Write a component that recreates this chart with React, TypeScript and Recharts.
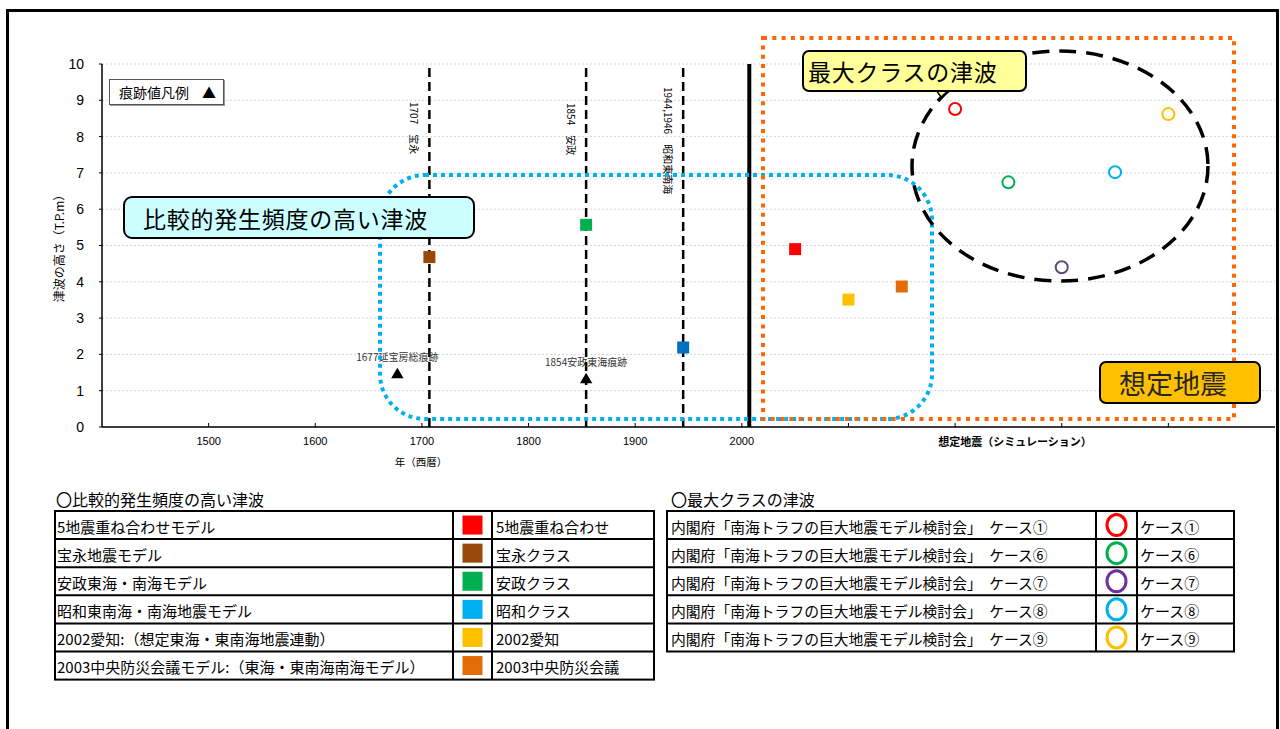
import React from 'react';
import { ScatterChart, Scatter, XAxis, YAxis, CartesianGrid, ReferenceLine } from 'recharts';

const JP = '"Noto Sans CJK JP", "Noto Sans", sans-serif';
const NUM = '"Liberation Sans", Arial, sans-serif';

// 横軸：年(西暦)。2000年より右はシミュレーション（想定地震）の並び
const xTicks = [1500, 1600, 1700, 1800, 1900, 2000, 2100, 2200, 2300, 2400];
const yTicks = [0, 1, 2, 3, 4, 5, 6, 7, 8, 9, 10];

// 過去の地震（破線）
const eventYears = [1707, 1854, 1945];
const eventLabels = ['1707　宝永', '1854　安政', '1944,1946　昭和東南海'];
const presentYear = 2007;

// 比較的発生頻度の高い津波
const freqModels = [
  '5地震重ね合わせモデル',
  '宝永地震モデル',
  '安政東海・南海モデル',
  '昭和東南海・南海地震モデル',
  '2002愛知:（想定東海・東南海地震連動）',
  '2003中央防災会議モデル:（東海・東南海南海モデル）',
];
const freqNames = ['5地震重ね合わせ', '宝永クラス', '安政クラス', '昭和クラス', '2002愛知', '2003中央防災会議'];
const freqX = [2050, 1707, 1854, 1945, 2100, 2150];
const freqY = [4.9, 4.68, 5.57, 2.19, 3.51, 3.87];
const freqColors = ['#FF0000', '#984807', '#00B050', '#0070C0', '#FFC000', '#E36C09'];
const freqLegendColors = ['#FF0000', '#984807', '#00B050', '#00B0F0', '#FFC000', '#E36C09'];

// 最大クラスの津波
const maxSource = '内閣府「南海トラフの巨大地震モデル検討会」　';
const maxNames = ['ケース①', 'ケース⑥', 'ケース⑦', 'ケース⑧', 'ケース⑨'];
const maxX = [2200, 2250, 2300, 2350, 2400];
const maxY = [8.76, 6.74, 4.4, 7.02, 8.62];
const maxColors = ['#FF0000', '#00B050', '#604A7B', '#00B0F0', '#FFC000'];
const maxLegendColors = ['#FF0000', '#00B050', '#7030A0', '#00B0F0', '#FFC000'];

// 痕跡値
const traceX = [1677, 1854];
const traceY = [1.48, 1.34];
const traceLabels = ['1677延宝房総痕跡', '1854安政東海痕跡'];

const eventLabelTop = [38, 39, 23];

const Square = (color: string) => (p: any) => (
  <rect x={p.cx - 6} y={p.cy - 6} width={12} height={12} fill={color} />
);

const Ring = (color: string) => (p: any) => (
  <circle cx={p.cx} cy={p.cy} r={6} fill="#fff" stroke={color} strokeWidth={2} />
);

const Triangle = (p: any) => (
  <g>
    <polygon
      points={`${p.cx},${p.cy - 5.5} ${p.cx - 6.2},${p.cy + 5} ${p.cx + 6.2},${p.cy + 5}`}
      fill="#000"
    />
    <text x={p.cx} y={p.cy - 17} textAnchor="middle" dominantBaseline="central" fontSize={10} style={{ fill: '#333' }} fontFamily={JP}>
      {p.payload.label}
    </text>
  </g>
);

function FreqTable() {
  const rowH = 28.1;
  const top = 511;
  const rows = freqModels.length;
  return (
    <svg width={1280} height={729} style={{ position: 'absolute', left: 0, top: 0 }}>
      <text x={56} y={499} dominantBaseline="central" fontSize={16} fontFamily={JP}>〇比較的発生頻度の高い津波</text>
      <rect x={55} y={top} width={599} height={rowH * rows} fill="none" stroke="#000" strokeWidth={2} />
      {freqModels.map((_, i) => i > 0 && (
        <line key={i} x1={55} x2={654} y1={top + rowH * i} y2={top + rowH * i} stroke="#000" strokeWidth={2} />
      ))}
      <line x1={453} x2={453} y1={top} y2={top + rowH * rows} stroke="#000" strokeWidth={2} />
      <line x1={492} x2={492} y1={top} y2={top + rowH * rows} stroke="#000" strokeWidth={2} />
      {freqModels.map((m, i) => {
        const cy = top + rowH * i + rowH / 2;
        return (
          <g key={m}>
            <text x={57} y={cy + 1} dominantBaseline="central" fontSize={15} fontFamily={JP}>{m}</text>
            <rect x={462.5} y={cy - 9.5} width={20} height={19} fill={freqLegendColors[i]} />
            <text x={496} y={cy + 1} dominantBaseline="central" fontSize={15} fontFamily={JP}>{freqNames[i]}</text>
          </g>
        );
      })}
    </svg>
  );
}

function MaxTable() {
  const rowH = 28.1;
  const top = 511;
  const rows = maxNames.length;
  return (
    <svg width={1280} height={729} style={{ position: 'absolute', left: 0, top: 0 }}>
      <text x={671} y={499} dominantBaseline="central" fontSize={16} fontFamily={JP}>〇最大クラスの津波</text>
      <rect x={667} y={top} width={567} height={rowH * rows} fill="none" stroke="#000" strokeWidth={2} />
      {maxNames.map((_, i) => i > 0 && (
        <line key={i} x1={667} x2={1234} y1={top + rowH * i} y2={top + rowH * i} stroke="#000" strokeWidth={2} />
      ))}
      <line x1={1096} x2={1096} y1={top} y2={top + rowH * rows} stroke="#000" strokeWidth={2} />
      <line x1={1137} x2={1137} y1={top} y2={top + rowH * rows} stroke="#000" strokeWidth={2} />
      {maxNames.map((n, i) => {
        const cy = top + rowH * i + rowH / 2;
        return (
          <g key={n}>
            <text x={671} y={cy + 1} dominantBaseline="central" fontSize={14.8} fontFamily={JP}>{maxSource + n}</text>
            <ellipse cx={1116.5} cy={cy} rx={9.5} ry={10.5} fill="none" stroke={maxLegendColors[i]} strokeWidth={3} />
            <text x={1140} y={cy + 1} dominantBaseline="central" fontSize={15} fontFamily={JP}>{n}</text>
          </g>
        );
      })}
    </svg>
  );
}

export default function App() {
  const traceData = traceX.map((x, i) => ({ x, y: traceY[i], label: traceLabels[i] }));

  return (
    <div style={{ position: 'absolute', left: 0, top: 0, width: 1280, height: 729, background: '#fff', overflow: 'hidden', fontFamily: JP }}>
      <div style={{ position: 'absolute', left: 6, top: 9, width: 1273, height: 800, border: '3px solid #000', boxSizing: 'border-box' }} />

      <div style={{ position: 'absolute', left: 0, top: 0 }}>
        <ScatterChart width={1280} height={470} margin={{ top: 64, right: 5, bottom: 0, left: 42 }}>
          <CartesianGrid vertical={false} stroke="#D4D4D4" strokeDasharray="2 2" />
          <XAxis
            type="number"
            dataKey="x"
            domain={[1400, 2500]}
            ticks={xTicks}
            interval={0}
            height={43}
            tickFormatter={(v: number) => (v <= 2000 ? String(v) : '')}
            tickSize={-4}
            tickMargin={14}
            axisLine={{ stroke: '#000', strokeWidth: 1.5 }}
            tickLine={{ stroke: '#000' }}
            tick={{ fontSize: 11, fill: '#000', fontFamily: NUM }}
            allowDataOverflow
          />
          <YAxis
            type="number"
            dataKey="y"
            domain={[0, 10]}
            ticks={yTicks}
            interval={0}
            width={60}
            tickSize={3}
            tickMargin={15}
            axisLine={{ stroke: '#000', strokeWidth: 1.5 }}
            tickLine={{ stroke: '#000' }}
            tick={{ fontSize: 14, fill: '#000', fontFamily: NUM }}
            label={(p: any) => {
              const vb = p.viewBox;
              const cx = vb.x + 16;
              const cy = vb.y + vb.height / 2;
              return (
                <text x={cx} y={cy} transform={`rotate(-90 ${cx} ${cy})`} textAnchor="middle" dominantBaseline="central" fontSize={12} fontFamily={JP} style={{ fill: '#000' }}>
                  津波の高さ（T.P.m）
                </text>
              );
            }}
          />
          {eventYears.map((yr, i) => (
            <ReferenceLine
              key={yr}
              x={yr}
              stroke="#000"
              strokeWidth={2.5}
              strokeDasharray="9 5"
              label={(p: any) => {
                const vb = p.viewBox;
                const lx = vb.x - 15;
                const ly = vb.y + eventLabelTop[i];
                return (
                  <text x={lx} y={ly} transform={`rotate(90 ${lx} ${ly})`} dominantBaseline="central" fontSize={10} fontFamily={JP} style={{ fill: '#000' }}>
                    {eventLabels[i]}
                  </text>
                );
              }}
            />
          ))}
          <ReferenceLine x={presentYear} stroke="#000" strokeWidth={4} />
          {freqNames.map((n, i) => (
            <Scatter key={n} name={n} data={[{ x: freqX[i], y: freqY[i] }]} shape={Square(freqColors[i])} isAnimationActive={false} />
          ))}
          {maxNames.map((n, i) => (
            <Scatter key={n} name={n} data={[{ x: maxX[i], y: maxY[i] }]} shape={Ring(maxColors[i])} isAnimationActive={false} />
          ))}
          <Scatter name="痕跡値" data={traceData} shape={Triangle} isAnimationActive={false} />
        </ScatterChart>
      </div>

      {/* 注記の枠 */}
      <svg width={1280} height={470} style={{ position: 'absolute', left: 0, top: 0, pointerEvents: 'none' }}>
        <rect x={380} y={175} width={552} height={244} rx={45} ry={45} fill="none" stroke="#00B0F0" strokeWidth={4} strokeDasharray="4 4" />
        <rect x={763} y={38} width={471} height={381} fill="none" stroke="#FF6600" strokeWidth={4} strokeDasharray="4 5.3" />
        <ellipse cx={1060} cy={166} rx={148} ry={115} fill="none" stroke="#000" strokeWidth={3.5} strokeDasharray="17 10" />
        <polygon points="936,90 949,90 941,97" fill="#FFFF99" stroke="#000" strokeWidth={1.5} />
        <text x={421} y={461} textAnchor="middle" dominantBaseline="central" fontSize={10.5} fontFamily={JP}>年（西暦）</text>
        <text x={1015} y={441} textAnchor="middle" dominantBaseline="central" fontSize={11} fontWeight="bold" fontFamily={JP}>想定地震（シミュレーション）</text>
      </svg>

      <div style={{ position: 'absolute', left: 109, top: 79, width: 115, height: 26, border: '1px solid #555', boxShadow: '1px 1px 0 #999', background: '#fff', boxSizing: 'border-box', fontSize: 14, lineHeight: '24px' }}>
        <span style={{ position: 'absolute', left: 9 }}>痕跡値凡例</span>
        <span style={{ position: 'absolute', left: 92, fontSize: 14 }}>▲</span>
      </div>

      <div style={{ position: 'absolute', left: 123, top: 196, width: 352, height: 43, border: '2px solid #000', borderRadius: 9, background: '#CCFFFF', boxSizing: 'border-box', fontSize: 23, letterSpacing: 0.75, display: 'flex', alignItems: 'center', paddingLeft: 18 }}>
        比較的発生頻度の高い津波
      </div>

      <div style={{ position: 'absolute', left: 802, top: 50, width: 225, height: 42, border: '2px solid #000', borderRadius: 7, background: '#FFFF99', boxSizing: 'border-box', fontSize: 23, letterSpacing: 0.75, display: 'flex', alignItems: 'center', paddingLeft: 4 }}>
        最大クラスの津波
      </div>

      <div style={{ position: 'absolute', left: 1099, top: 361, width: 162, height: 43, border: '2px solid #000', borderRadius: 7, background: '#FFC000', boxSizing: 'border-box', fontSize: 27, color: '#262626', display: 'flex', alignItems: 'center', paddingLeft: 18 }}>
        想定地震
      </div>

      <FreqTable />
      <MaxTable />
    </div>
  );
}
